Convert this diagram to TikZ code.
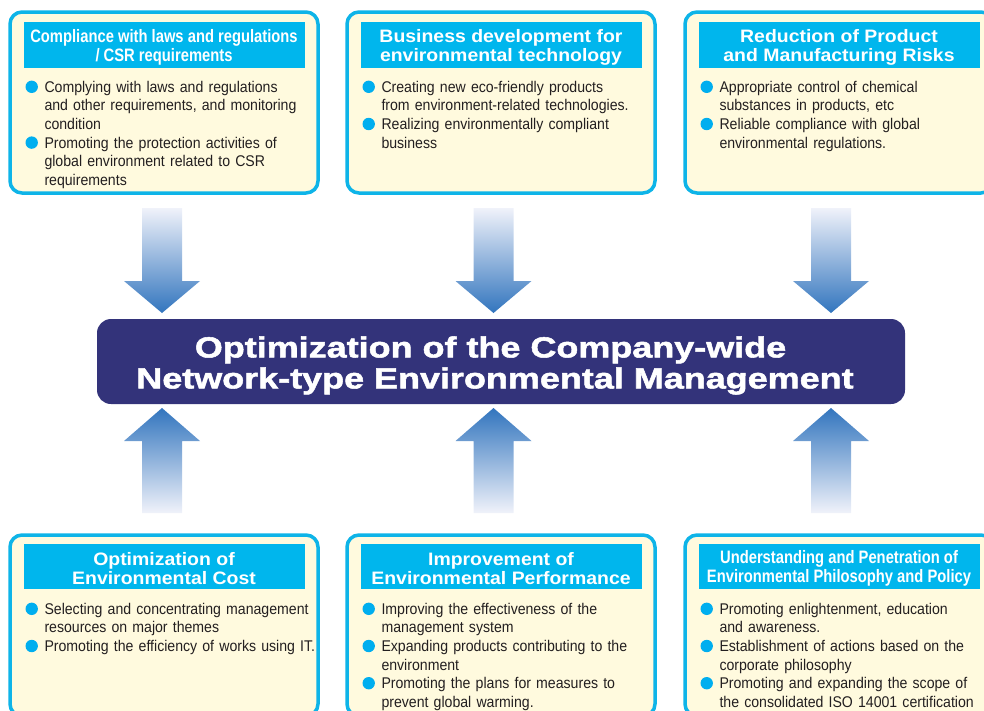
\documentclass[tikz,border=0pt]{standalone}
\usepackage{fontspec}
\setmainfont{Liberation Sans}
\newfontfamily\bodyfont[FakeStretch=0.91]{Liberation Sans}
\newfontfamily\widefont[FakeStretch=1.08]{Liberation Sans}
\newfontfamily\narrowfont[FakeStretch=0.82]{Liberation Sans}
\newfontfamily\corefont[FakeStretch=1.24,FakeBold=1.8]{Liberation Sans}

\definecolor{rimcyan}{RGB}{14,180,232}
\definecolor{bandcyan}{RGB}{0,182,237}
\definecolor{panelcream}{RGB}{255,250,222}
\definecolor{corenavy}{RGB}{51,51,122}
\definecolor{flowblue}{RGB}{50,117,190}
\definecolor{flowpale}{RGB}{240,242,250}
\definecolor{dotcyan}{RGB}{0,174,239}
\definecolor{inkgray}{RGB}{35,31,32}

% one bullet point of a panel
\newcommand{\dotitem}[1]{\par\noindent
   \makebox[19pt][l]{\tikz[baseline=-5.4pt]\fill[dotcyan] (6.2pt,0pt) circle (6.2pt);}%
   \parbox[t]{280pt}{\raggedright\strut #1\strut}\par\prevdepth=\dp\strutbox}

\begin{document}
\begin{tikzpicture}
      [x = 1pt, y = -1pt,
      panel/.style = {
         draw = rimcyan,
         line width = 3.5pt,
         fill = panelcream,
         rounded corners = 12pt,
         inner sep = 0pt,
         outer sep = 0pt,
         minimum width = 308pt,
         minimum height = 181pt,
         anchor = north west
      },
      band/.style = {
         fill = bandcyan,
         text = white,
         inner sep = 0pt,
         minimum width = 281pt,
         minimum height = 46pt,
         anchor = north,
         align = center,
         font = \widefont\bfseries\fontsize{18}{19}\selectfont
      },
      narrow/.style = {
         font = \narrowfont\bfseries\fontsize{18}{19}\selectfont
      },
      notes/.style = {
         text = inkgray,
         inner sep = 0pt,
         text width = 300pt,
         anchor = north west,
         font = \bodyfont\fontsize{15.5}{18.6}\selectfont
      },
      flow down/.pic = {
         \shade[top color = flowpale, bottom color = flowblue]
            (-20, 0) -- (20, 0) -- (20, 73) -- (38, 73) -- (0, 105)
            -- (-38, 73) -- (-20, 73) -- cycle;
      },
      flow up/.pic = {
         \shade[top color = flowblue, bottom color = flowpale]
            (-20, 0) -- (-20, -72) -- (-38, -72) -- (0, -105)
            -- (38, -72) -- (20, -72) -- (20, 0) -- cycle;
      }]

      \useasboundingbox (0, 0) rectangle (984, 710);

      % upper row
      \node[panel] (lawbox) at (10, 12) {};
      \node[panel] (techbox) at (347, 12) {};
      \node[panel] (riskbox) at (685, 12) {};

      \node[band, narrow] (lawtitle) at ([yshift = -10pt]lawbox.north)
         {\rule{0pt}{17pt}Compliance with laws and regulations\\/ CSR requirements};
      \node[band] (techtitle) at ([yshift = -10pt]techbox.north)
         {\rule{0pt}{17pt}Business development for\\environmental technology};
      \node[band] (risktitle) at ([yshift = -10pt]riskbox.north)
         {\rule{0pt}{17pt}Reduction of Product\\and Manufacturing Risks};

      \node[notes] (lawnotes) at ([xshift = 2pt, yshift = -5pt]lawtitle.south west) {%
         \dotitem{Complying with laws and regulations\\and other requirements, and monitoring\\condition}
         \dotitem{Promoting the protection activities of\\global environment related to CSR\\requirements}};
      \node[notes] (technotes) at ([xshift = 2pt, yshift = -5pt]techtitle.south west) {%
         \dotitem{Creating new eco-friendly products\\from environment-related technologies.}
         \dotitem{Realizing environmentally compliant\\business}};
      \node[notes] (risknotes) at ([xshift = 2pt, yshift = -5pt]risktitle.south west) {%
         \dotitem{Appropriate control of chemical\\substances in products, etc}
         \dotitem{Reliable compliance with global\\environmental regulations.}};

      % centre
      \node[fill = corenavy, text = white, rounded corners = 14pt,
         minimum width = 808pt, minimum height = 85pt, inner sep = 0pt,
         align = center, font = \corefont\bfseries\fontsize{29}{31}\selectfont]
         (core) at (501, 361.5)
         {\rule{0pt}{29pt}Optimization of the Company-wide\hspace*{21pt}\\Network-type Environmental Management\hspace*{12pt}};

      % lower row
      \node[panel] (costbox) at (10, 535) {};
      \node[panel] (perfbox) at (347, 535) {};
      \node[panel] (policybox) at (685, 535) {};

      \node[band, minimum height = 45pt] (costtitle) at ([yshift = -9pt]costbox.north)
         {\rule{0pt}{17pt}Optimization of\\Environmental Cost};
      \node[band, minimum height = 45pt] (perftitle) at ([yshift = -9pt]perfbox.north)
         {\rule{0pt}{17pt}Improvement of\\Environmental Performance};
      \node[band, narrow, minimum height = 45pt] (policytitle) at ([yshift = -9pt]policybox.north)
         {\rule{0pt}{17pt}Understanding and Penetration of\\Environmental Philosophy and Policy};

      \node[notes] (costnotes) at ([xshift = 2pt, yshift = -6pt]costtitle.south west) {%
         \dotitem{Selecting and concentrating management\\resources on major themes}
         \dotitem{Promoting the efficiency of works using IT.}};
      \node[notes] (perfnotes) at ([xshift = 2pt, yshift = -6pt]perftitle.south west) {%
         \dotitem{Improving the effectiveness of the\\management system}
         \dotitem{Expanding products contributing to the\\environment}
         \dotitem{Promoting the plans for measures to\\prevent global warming.}};
      \node[notes] (policynotes) at ([xshift = 2pt, yshift = -6pt]policytitle.south west) {%
         \dotitem{Promoting enlightenment, education\\and awareness.}
         \dotitem{Establishment of actions based on the\\corporate philosophy}
         \dotitem{Promoting and expanding the scope of\\the consolidated ISO 14001 certification}};

      % arrows into the centre
      \pic at ([xshift = -2pt, yshift = -15pt]lawbox.south) {flow down};
      \pic at ([xshift = -7.5pt, yshift = -15pt]techbox.south) {flow down};
      \pic at ([xshift = -8pt, yshift = -15pt]riskbox.south) {flow down};
      \pic at ([xshift = -2pt, yshift = 22pt]costbox.north) {flow up};
      \pic at ([xshift = -7.5pt, yshift = 22pt]perfbox.north) {flow up};
      \pic at ([xshift = -8pt, yshift = 22pt]policybox.north) {flow up};

   \end{tikzpicture}
\end{document}
